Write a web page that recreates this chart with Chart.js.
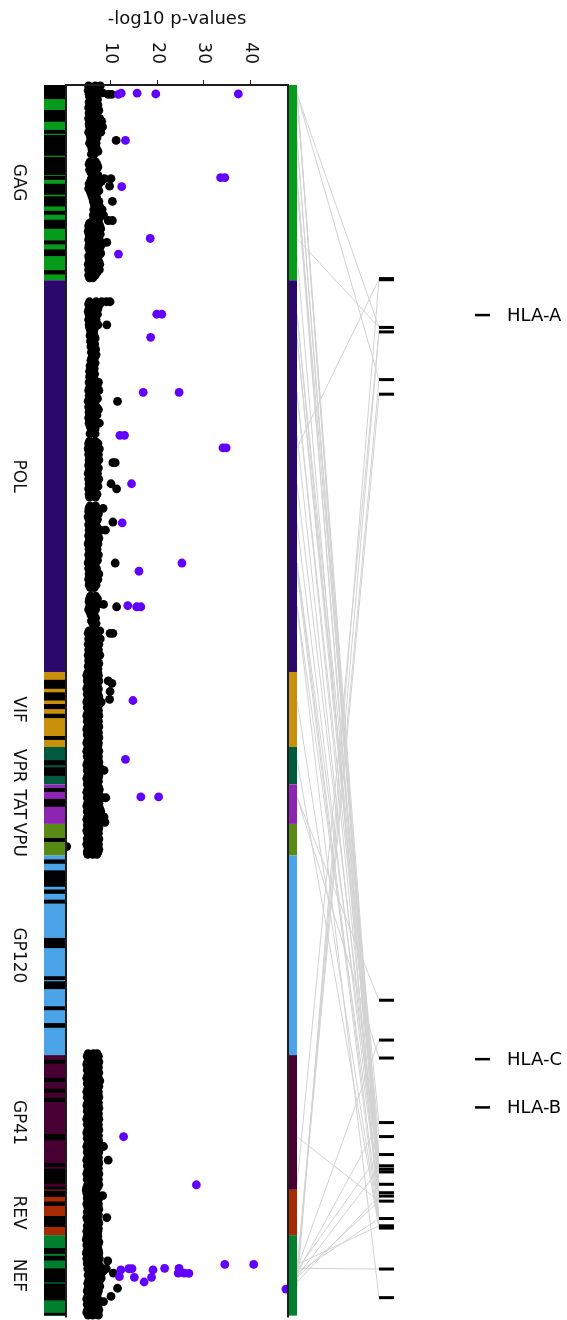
<!DOCTYPE html>
<html>
<head>
<meta charset="utf-8">
<script src="https://cdn.jsdelivr.net/npm/chart.js@4.4.1/dist/chart.umd.min.js"></script>
<style>
  html, body { margin: 0; padding: 0; background: #fff; }
  canvas { display: block; }
</style>
</head>
<body>
<canvas id="c" width="567" height="1320"></canvas>
<script>
// HIV proteome laid end to end (amino-acid positions), top to bottom
const geneNames  = ['GAG', 'POL', 'VIF', 'VPR', 'TAT', 'VPU', 'GP120', 'GP41', 'REV', 'NEF'];
const geneStart  = [0, 500, 1503, 1695, 1791, 1892, 1973, 2484, 2829, 2945];
const geneEnd    = [500, 1503, 1695, 1791, 1892, 1973, 2484, 2829, 2945, 3151];
const geneColors = ['#079b1c', '#2b086c', '#c9900c', '#005a3e', '#8e24b2', '#5a8a16', '#4ba4e8', '#480033', '#a62a02', '#00802f'];

// stretches shown in black on the left gene bar
const maskBands = [
  [0, 36], [64, 94], [115, 125], [128, 181], [184, 231], [233, 243], [253, 281], [285, 311],
  [322, 332], [345, 368], [398, 408], [421, 438], [474, 485],
  [1523, 1546], [1555, 1576], [1585, 1598], [1610, 1621], [1667, 1677], [1729, 1742], [1747, 1769],
  [1800, 1810], [1828, 1848], [1928, 1938], [1983, 1994], [2011, 2053], [2060, 2071], [2086, 2096],
  [2184, 2210], [2282, 2292], [2295, 2315], [2359, 2369], [2402, 2414],
  [2496, 2506], [2542, 2553], [2570, 2580], [2593, 2604], [2686, 2702], [2760, 2770], [2775, 2813],
  [2821, 2828], [2831, 2847], [2859, 2870], [2896, 2924], [2978, 2993], [2998, 3010], [3030, 3066],
  [3069, 3112], [3144, 3151]
];

// non-significant tests: [position, -log10 p, -log10 p, ...]
const gagHits = [
  [2,5.4,6.8,7.9],[8,5.6,7.2],[14,5.3,6.5,7.6],[20,5.8,7.0,8.4],[24,5.5,9.6,10.3],
  [30,5.6,6.9],[37,5.9,7.3],[44,5.5,6.6],[51,5.7,7.4],[58,5.4,6.8],[65,5.8,7.6],[72,5.5,6.9],[79,5.7,7.2],
  [86,5.4,6.7,7.8],[93,5.8,7.1,8.2],[100,5.5,6.6,7.9],[107,5.6,7.3,8.4],[114,5.9,6.8],[121,5.4,7.1,8.0],[128,5.7,6.6],
  [135,5.8,7.2],[142,5.9,6.8,11.3],[149,5.6,7.0],[156,6.0,6.9],[163,6.1,7.1],[170,6.2,7.4],[177,6.0,6.6],
  [197,5.7,6.9],[203,5.5,7.2],[210,5.8,6.6,7.4],[217,5.6,7.0],[224,5.9,6.7],[231,6.2,7.4],
  [240,6.0,7.6,8.8,10.2],[246,5.8,7.0,8.2],[253,5.5,6.5,7.6],[259,5.6,7.3,9.9],[265,5.4,6.8],[271,5.7,7.6],[277,5.9,6.7],[284,6.1,7.0],
  [291,6.3,7.2],[298,6.4,7.6,10.5],[305,6.6,7.5],[312,6.8,7.8],[319,6.5,7.2,8.3],[326,6.7,7.6],[333,6.4,7.4,8.6],[340,6.6,7.7],[347,6.3,7.2,9.6,10.5],
  [354,5.6,6.8,7.6],[361,5.4,6.6,7.8],[368,5.6,7.0,8.0],[375,5.3,6.5,7.4],[382,5.5,6.9,7.9],[389,5.6,7.2],[396,5.4,6.7,7.7],[403,5.7,7.0,9.3],
  [410,5.5,6.6,8.1],[417,5.4,7.1,7.8],[424,5.6,6.8],[431,5.8,7.3,8.0],[438,5.4,6.6,7.5],[445,5.5,7.0],[452,5.7,6.5,7.6],[459,5.3,6.9,7.8],
  [466,5.5,7.1],[473,5.4,6.6,7.7],[480,5.6,7.2],[487,5.4,6.8],[494,5.6,6.3]
];
const polHits = [
  [555,5.6,7.0,8.2,9.2,10.0],[561,5.4,6.6,7.8],[567,5.6,7.2],[573,5.5,6.5,7.4],[580,5.3,6.8],[587,5.5,7.3],[594,5.6,6.6],[601,5.4,7.0],
  [608,5.7,6.8],[614,5.5,7.4,9.3],[621,5.6,6.7],[628,5.8,6.5],
  [635,5.9,6.4],[642,5.7,6.6],[649,6.0,6.8],[656,5.8,6.3],[663,6.1,6.7],[670,5.9,6.5],[677,6.2,6.9],[684,6.0,6.6],[691,6.3,7.0],
  [698,6.1,6.7],[705,5.9,6.4],[712,6.2,6.8],[719,5.7,6.3],[726,5.8,6.6],[733,5.6,6.3],[740,5.9,6.7],[747,5.6,6.4],[754,5.8,6.6],
  [761,5.5,6.9,7.5],[768,5.7,6.6,7.3],[775,5.6,6.4],[782,5.4,6.9,7.6],[789,5.8,6.5],[796,5.5,7.0],[803,5.6,6.4,7.3],[810,5.3,6.8,11.6],
  [817,5.6,6.5],[824,5.4,7.1],[831,5.7,6.6,7.5],[838,5.5,6.9],[845,5.6,6.4,7.2],[852,5.4,6.7],[859,5.6,6.3],[866,5.5,6.9,7.7],[873,5.7,6.5],[880,5.9,6.8],
  [893,5.7,6.8],
  [912,5.6,6.8],[918,5.4,6.4,7.4],[925,5.5,7.0],[932,5.3,6.6,7.7],[939,5.6,7.1],[946,5.4,6.5,7.5],[953,5.7,6.9],[960,5.5,6.6,7.6],
  [967,5.6,7.2,10.6,11.1],[974,5.4,6.8],[981,5.7,6.4,7.5],[988,5.5,7.0],[995,5.3,6.6,7.3],[1002,5.6,7.1],[1009,5.4,6.5,7.6],[1016,5.7,6.9],
  [1021,5.5,10.2],[1028,5.6,6.6,7.4],[1034,5.4,11.4],[1041,5.7,6.8],[1048,5.5,6.4,7.2],[1055,5.6,6.9],
  [1078,5.7,6.9],[1084,5.5,6.5,8.5],[1091,5.4,7.1],[1098,5.6,6.6,7.5],[1105,5.3,6.9],[1112,5.5,6.4,7.3],[1119,5.7,7.0,10.6],[1126,5.4,6.6],
  [1133,5.6,7.2],[1140,5.5,6.8,8.0,9.0],[1147,5.7,6.5],[1154,5.4,6.9,7.4],
  [1161,5.6,6.5,7.6],[1168,5.5,7.0],[1175,5.3,6.6,7.4],[1182,5.6,6.9],[1189,5.5,6.4,7.2],[1196,5.7,7.0],[1203,5.4,6.6,7.5],[1210,5.6,6.8],
  [1217,5.5,6.4,7.3],[1224,5.3,6.9,11.1],[1231,5.6,6.5],[1238,5.4,7.1],[1245,5.7,6.6],[1252,5.5,6.9,7.6],[1259,5.6,6.4],[1266,5.4,6.8,7.4],
  [1273,5.7,6.5],[1280,5.5,7.0],[1287,5.8,6.6],
  [1309,5.8,6.9],[1316,5.6,6.5,7.3],[1323,5.5,7.0],[1330,5.7,7.4,8.6],[1336,5.6,6.6,11.4],[1343,5.4,6.9],[1350,5.7,6.4],[1357,5.9,6.6],
  [1365,6.2,6.9],[1372,6.0,6.7],[1379,6.3,7.0],
  [1398,5.5,6.8,7.8],[1404,5.3,6.6,10.0,10.6],[1411,5.6,7.2],[1418,5.4,6.7,7.9],[1425,5.7,7.0],[1432,5.3,6.5,7.6],[1439,5.6,7.3],
  [1446,5.4,6.6,7.5],[1453,5.6,7.0],[1460,5.3,6.8,7.8],[1467,5.5,6.5,7.3],[1474,5.4,7.1],[1481,5.6,6.6,7.6],[1488,5.3,6.9],[1495,5.5,6.4,7.4],[1501,5.6,7.0]
];
const accessoryHits = [
  [1505,5.2,6.3,7.4],[1512,5.0,6.6,7.5],[1519,5.3,6.2,7.2],[1526,5.1,6.5,7.6,9.6],[1532,5.4,6.9,10.4],[1539,5.2,6.3,7.3],[1546,5.0,6.7,7.5],
  [1553,5.3,6.4,10.0],[1560,5.1,6.8,7.4],[1567,5.4,6.2,7.6],[1573,5.2,6.6,9.9],[1580,5.0,6.4,7.3,8.1],[1587,5.3,6.9,7.6],[1594,5.1,6.3,7.2],
  [1601,5.4,6.6,7.5],[1608,5.2,6.2,7.4],[1615,5.0,6.8,7.6],[1622,5.3,6.4,7.2],[1629,5.1,6.7,7.5],[1636,5.4,6.3,7.4],[1643,5.2,6.9,7.6],
  [1650,5.0,6.5,7.3],[1657,5.3,6.2,7.5],[1664,5.1,6.7,7.4],[1671,5.4,6.4,7.6],[1678,5.2,6.8,7.3],[1685,5.0,6.3,7.5],[1692,5.3,6.6,7.4],
  [1699,5.2,6.5,7.3],[1706,5.0,6.8,7.6],[1713,5.3,6.3,7.2],[1720,5.1,6.6,7.5],[1727,5.4,6.2,7.4],[1734,5.2,6.9,7.6],[1741,5.0,6.4,7.3],
  [1748,5.3,6.7,7.8],[1755,5.1,6.3,7.5,8.7],[1762,5.4,6.8,7.2],[1769,5.2,6.5,7.6],[1776,5.0,6.2,7.4],[1783,5.3,6.7,7.5],[1790,5.1,6.4,7.3],
  [1797,5.4,6.6,7.5],[1804,5.2,6.3,7.7],[1811,5.0,6.8,7.4],[1818,5.3,6.4,7.6],[1825,5.1,6.9,8.4,9.1],[1832,5.4,6.2,7.3],[1839,5.2,6.6,7.6],
  [1846,5.0,6.4,7.4],[1853,5.3,6.8,7.8],[1860,5.1,6.3,8.0],[1867,5.4,6.7,7.3],[1874,5.2,6.5,7.9,8.7],[1881,5.0,6.2,7.5],[1888,5.3,6.8,7.4,8.9],
  [1895,5.1,6.5,7.3],[1902,5.3,6.2,7.6],[1909,5.0,6.7,7.4],[1916,5.2,6.4,7.5],[1923,5.4,6.9,7.2],[1930,5.1,6.3,7.6],[1937,5.3,6.6,7.4],
  [1944,5.0,6.2,7.5],[1950,0.7,5.2,6.8,7.3],[1957,5.3,6.4,7.6],[1964,5.1,6.6,7.4],[1970,5.2,6.3,7.2]
];
const envHits = [
  [2480,5.3,6.4,7.2],[2487,5.1,6.7,7.5],[2494,5.4,6.3,7.3],[2501,5.2,6.8,7.6],[2508,5.0,6.5,7.4],[2515,5.3,6.2,7.5],[2522,5.1,6.6,7.3],
  [2529,5.4,6.9,7.6],[2536,5.2,6.4,7.2],[2543,5.0,6.7,7.5],[2550,5.3,6.3,7.8],[2557,5.1,6.8,7.4],[2564,5.4,6.5,7.6],[2571,5.2,6.2,7.3],
  [2578,5.0,6.6,7.5],[2585,5.3,6.9,7.4],[2592,5.1,6.4,7.6],[2599,5.4,6.7,7.3],[2606,5.2,6.3,7.5],[2613,5.0,6.8,7.4],[2620,5.3,6.5,7.6],
  [2627,5.1,6.2,7.3],[2634,5.4,6.6,7.5],[2641,5.2,6.9,7.4],[2648,5.0,6.4,7.6],[2655,5.3,6.7,7.3],[2662,5.1,6.3,7.5],[2669,5.4,6.8,7.4],
  [2676,5.2,6.5,7.6],[2683,5.0,6.2,7.3],[2690,5.3,6.6,7.5],[2697,5.1,6.9,7.4],[2704,5.4,6.4,7.6],[2711,5.2,6.7,7.3],[2718,5.0,6.3,7.5,8.6],
  [2725,5.3,6.8,7.4],[2732,5.1,6.5,7.6],[2739,5.4,6.2,7.3],[2746,5.2,6.6,7.5],[2753,5.0,6.9,7.4,9.6],[2760,5.3,6.4,7.6],[2767,5.1,6.7,7.3],
  [2774,5.4,6.3,7.5],[2781,5.2,6.8,7.4],[2788,5.0,6.5,7.6],[2795,5.3,6.2,7.3],[2802,5.1,6.6,7.5],[2809,5.4,6.9,7.4],[2816,5.2,6.4,7.6],
  [2823,5.0,6.7,7.3],
  [2830,4.9,6.0,6.6],[2837,5.0,6.3,7.0],[2844,5.2,6.5,7.3,8.4],[2851,5.1,6.8,7.6],[2858,5.3,6.4,7.2],[2865,5.0,6.7,7.5],[2872,5.2,6.3,7.4],
  [2879,5.4,6.9,7.6],[2886,5.1,6.5,7.3],[2893,5.3,6.2,7.5],[2900,5.0,6.7,9.3],[2907,5.2,6.4,7.4],[2914,5.4,6.8,7.6],[2921,5.1,6.3,7.2],
  [2928,5.3,6.6,7.5],[2935,5.0,6.9,7.4],[2942,5.2,6.4,7.3]
];
const nefHits = [
  [2949,5.1,6.4,7.4],[2956,4.9,6.7,7.2],[2963,5.2,6.3,7.6],[2970,5.0,6.6,7.4],[2977,5.3,6.2,7.3],[2984,5.1,6.8,7.5],[2991,4.9,6.4,7.6],
  [2998,5.2,6.7,7.4],[3005,5.0,6.3,7.7],[3011,5.3,6.9,9.5],[3018,5.1,6.5,7.5],[3025,5.4,6.7,7.8],[3031,5.2,6.9,8.4,9.2],[3038,5.6,7.1,8.5],
  [3042,5.5,6.6,10.7],[3048,5.3,6.8,7.9],[3055,5.6,7.2,8.1],[3062,5.4,6.5,7.7],[3069,5.2,6.9,7.4],[3076,5.5,6.4,7.8],[3081,5.3,6.8,11.6],
  [3088,5.1,6.5,7.5],[3095,5.4,6.7,7.3],[3102,5.2,6.4,10.2],[3109,5.0,6.8,7.4],[3115,5.3,6.3,8.6],[3122,5.1,6.6,7.5],[3129,5.4,6.9,7.3],
  [3136,5.2,6.4,7.6],[3143,5.0,6.7,7.4],[3150,5.3,6.3,7.5]
];

// significant associations
const sigSites  = [24, 21, 21, 23, 23, 142, 237, 237, 260, 393, 433,
                   587, 587, 646, 787, 787, 897, 897, 929, 929, 1021, 1121, 1224, 1245, 1333, 1336, 1336,
                   1576, 1727, 1823, 1823, 2693, 2816,
                   3034, 3051, 3031, 3031, 3053, 3065, 3053, 3034, 3030, 3030, 3042, 3042, 3043, 3020, 3020, 3083];
const sigValues = [11.8, 12.4, 15.8, 19.8, 37.5, 13.3, 33.7, 34.6, 12.5, 18.6, 11.8,
                   20.0, 21.1, 18.7, 17.1, 24.8, 12.1, 13.1, 34.2, 34.9, 14.6, 12.6, 25.4, 16.2, 13.8, 15.7, 16.6,
                   14.9, 13.3, 16.6, 20.4, 12.9, 28.5,
                   12.3, 12.0, 14.0, 14.7, 15.2, 17.3, 18.9, 19.2, 21.7, 24.8, 24.6, 25.9, 26.9, 34.6, 40.8, 47.7];

// host variants on chromosome 6 (Mb)
const hlaSnps = [29.845, 29.847, 29.932, 29.940, 30.025, 30.051, 31.131, 31.202, 31.234, 31.349, 31.374,
                 31.406, 31.426, 31.432, 31.437, 31.459, 31.474, 31.480, 31.489, 31.520, 31.533, 31.537, 31.610, 31.661];
const hlaGenes   = ['HLA-A', 'HLA-C', 'HLA-B'];
const hlaGenePos = [29.910, 31.236, 31.322];

// virus site (aa) -> host variant (Mb)
const linkSites = [23, 23, 23, 21, 21, 142, 142, 237, 237, 260, 393, 433,
                   587, 587, 646, 646, 787, 787, 897, 929, 1021, 1121, 1224, 1224, 1245, 1333, 1336,
                   1576, 1727, 1823, 1823, 2693, 2816,
                   3083, 3030, 3042, 3053, 3031, 3043, 3034, 3051, 3065, 3053, 3042, 3020, 3030];
const linkSnps  = [29.932, 30.025, 31.426, 31.459, 31.489, 31.474, 31.437, 31.406, 31.520, 31.480, 29.932, 31.533,
                   31.432, 31.349, 31.426, 31.374, 31.459, 31.406, 31.489, 29.846, 31.437, 31.480, 31.520, 31.432,
                   31.537, 31.474, 31.661,
                   31.533, 31.537, 31.131, 31.234, 31.489, 29.940,
                   29.846, 30.025, 30.051, 29.940, 31.202, 31.349, 31.406, 31.432, 31.480, 31.489, 31.520, 31.533, 31.610];

const tickValues = [10, 20, 30, 40];

function expand(levels) {
  const pts = [];
  levels.forEach(([pos, ...vals]) => vals.forEach(v => pts.push({ x: v, y: pos })));
  return pts;
}
const backgroundPts = [gagHits, polHits, accessoryHits, envHits, nefHits].flatMap(expand);
const sigPts = sigSites.map((s, i) => ({ x: sigValues[i], y: s }));

const FONT = '"DejaVu Sans", "Liberation Sans", sans-serif';
const STRIP_L = [44, 65];      // left gene bar
const STRIP_R_W = 8;           // right gene bar width
const HLA_X = [379, 394];      // host variant ticks
const LEG_X = [475, 490, 507]; // legend dash and label

const decor = {
  id: 'decor',
  afterDatasetsDraw(chart) {
    const { ctx, chartArea: a, scales } = chart;
    const y = scales.y, x = scales.x, h = scales.hla;
    ctx.save();

    // links between virus sites and host variants
    ctx.strokeStyle = '#d2d2d2';
    ctx.lineWidth = 1;
    const x0 = a.right + 1 + STRIP_R_W;
    linkSites.forEach((s, i) => {
      ctx.beginPath();
      ctx.moveTo(x0, y.getPixelForValue(s));
      ctx.lineTo(HLA_X[0], h.getPixelForValue(linkSnps[i]));
      ctx.stroke();
    });

    // gene bars
    geneNames.forEach((g, i) => {
      const t = y.getPixelForValue(geneStart[i]);
      const b = y.getPixelForValue(geneEnd[i]);
      ctx.fillStyle = geneColors[i];
      ctx.fillRect(STRIP_L[0], t, STRIP_L[1] - STRIP_L[0], b - t);
      ctx.fillRect(a.right + 1, t, STRIP_R_W, b - t);
    });
    ctx.fillStyle = '#000';
    maskBands.forEach(([s, e]) => {
      const t = y.getPixelForValue(s);
      const b = y.getPixelForValue(e);
      ctx.fillRect(STRIP_L[0], t, STRIP_L[1] - STRIP_L[0], b - t);
    });

    // plot frame
    ctx.strokeStyle = '#1e1e1e';
    ctx.lineWidth = 2;
    ctx.beginPath();
    ctx.moveTo(a.left, a.bottom + 2);
    ctx.lineTo(a.left, a.top);
    ctx.lineTo(a.right, a.top);
    ctx.lineTo(a.right, a.bottom + 2);
    ctx.stroke();

    // top axis ticks and labels
    ctx.lineWidth = 1;
    ctx.fillStyle = '#111';
    ctx.font = '17px ' + FONT;
    tickValues.forEach(v => {
      const px = Math.round(x.getPixelForValue(v)) + 0.5;
      ctx.beginPath();
      ctx.moveTo(px, a.top - 5);
      ctx.lineTo(px, a.top);
      ctx.stroke();
      ctx.save();
      ctx.translate(px, a.top - 21);
      ctx.rotate(Math.PI / 2);
      ctx.textAlign = 'right';
      ctx.textBaseline = 'middle';
      ctx.fillText(String(v), 0, 0);
      ctx.restore();
    });
    ctx.font = '18px ' + FONT;
    ctx.textAlign = 'center';
    ctx.textBaseline = 'alphabetic';
    ctx.fillText('-log10 p-values', (a.left + a.right) / 2, 24);

    // gene names
    ctx.font = '17px ' + FONT;
    geneNames.forEach((g, i) => {
      const c = y.getPixelForValue((geneStart[i] + geneEnd[i]) / 2);
      ctx.save();
      ctx.translate(18, c);
      ctx.rotate(Math.PI / 2);
      ctx.textAlign = 'center';
      ctx.textBaseline = 'middle';
      ctx.fillText(g, 0, 0);
      ctx.restore();
    });

    // host variant ticks
    ctx.fillStyle = '#000';
    hlaSnps.forEach(m => {
      const py = h.getPixelForValue(m);
      ctx.fillRect(HLA_X[0], py - 1.5, HLA_X[1] - HLA_X[0], 3);
    });

    // gene legend
    ctx.font = '18px ' + FONT;
    ctx.textAlign = 'left';
    ctx.textBaseline = 'middle';
    hlaGenes.forEach((g, i) => {
      const py = h.getPixelForValue(hlaGenePos[i]);
      ctx.fillRect(LEG_X[0], py - 1.25, LEG_X[1] - LEG_X[0], 2.5);
      ctx.fillText(g, LEG_X[2], py + 1);
    });
    ctx.restore();
  }
};

new Chart(document.getElementById('c'), {
  type: 'scatter',
  data: {
    datasets: [
      { label: 'significant', data: sigPts, backgroundColor: '#6200ff', borderWidth: 0, pointRadius: 4.4, clip: false },
      { label: 'other', data: backgroundPts, backgroundColor: '#000', borderWidth: 0, pointRadius: 4.4, clip: false }
    ]
  },
  options: {
    responsive: false,
    devicePixelRatio: 1,
    animation: false,
    events: [],
    layout: { padding: { left: 66, right: 279, top: 85, bottom: 0 } },
    plugins: { legend: { display: false }, tooltip: { enabled: false } },
    scales: {
      x: { type: 'linear', min: 0.55, max: 48.15, display: false },
      y: { type: 'linear', min: 0, max: 3151, reverse: true, display: false },
      hla: { type: 'linear', axis: 'y', min: 29.5, max: 31.693, reverse: true, display: false }
    }
  },
  plugins: [decor]
});
</script>
</body>
</html>
